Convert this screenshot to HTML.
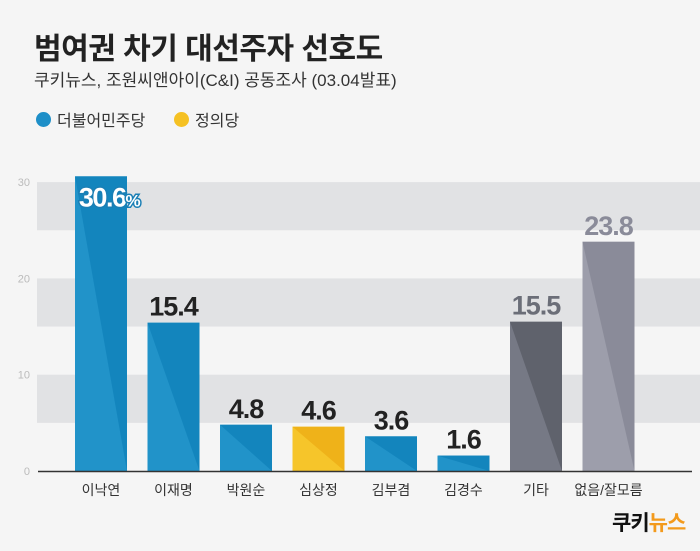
<!DOCTYPE html>
<html><head><meta charset="utf-8"><style>
body{margin:0;width:700px;height:551px;background:#f5f5f5;font-family:"Liberation Sans","Noto Sans CJK KR",sans-serif;overflow:hidden}
#t{position:absolute;left:34px;top:24px;font-size:30px;font-weight:bold;color:#222;letter-spacing:-0.5px}
#s{position:absolute;left:34px;top:66px;font-size:17px;color:#333}
.lg{position:absolute;top:107px;font-size:16px;color:#333;display:flex;align-items:center}
.lg i{display:inline-block;width:15px;height:15px;border-radius:50%;margin-right:6px}
</style></head><body>
<div id="t">범여권 차기 대선주자 선호도</div>
<div id="s">쿠키뉴스, 조원씨앤아이(C&amp;I) 공동조사 (03.04발표)</div>
<div class="lg" style="left:36px"><i style="background:#1e8fc8"></i>더불어민주당</div>
<div class="lg" style="left:174px"><i style="background:#f5c123"></i>정의당</div>
<svg id="c" width="700" height="551" style="position:absolute;left:0;top:0"></svg>
<div style="position:absolute;left:612px;top:507px;font-size:21px;font-weight:bold;letter-spacing:-1px"><span style="color:#111">쿠키</span><span style="color:#f39a1c">뉴스</span></div>
<script>
const cats=["이낙연","이재명","박원순","심상정","김부겸","김경수","기타","없음/잘모름"];
const vals=[30.6,15.4,4.8,4.6,3.6,1.6,15.5,23.8];
const labels=["30.6","15.4","4.8","4.6","3.6","1.6","15.5","23.8"];
const parties=["d","d","d","j","d","d","o","n"];
const ticks=[0,10,20,30];
const NS="http://www.w3.org/2000/svg",svg=document.getElementById('c');
const y=v=>471-v*9.63, x=i=>75+i*72.5;
function mk(t,a){const e=document.createElementNS(NS,t);for(const k in a)e.setAttribute(k,a[k]);svg.appendChild(e);return e;}
for(let b=0;b<30;b+=10){const r=mk('rect',{x:37,y:y(b+10),width:663,height:y(b+5)-y(b+10),fill:'#e1e2e4'});
}
ticks.forEach(t=>{const e=mk('text',{x:30,y:y(t)+4,'text-anchor':'end','font-size':11,fill:'#bbb'});e.textContent=t;
});
const col={d:['#2193c9','#1385bd'],j:['#f6c52a','#efb219'],o:['#767985','#5f626c'],n:['#9d9eab','#8a8b99']};
const lc={d:'#222',j:'#222',o:'#6b6e78',n:'#8a8b99'};
vals.forEach((v,i)=>{const x0=x(i),w=52,top=y(v),h=471-top,c=col[parties[i]];
const r=mk('rect',{x:x0,y:top,width:w,height:h,fill:c[0]});
const p=mk('polygon',{points:`${x0},${top} ${x0+w},${top} ${x0+w},471`,fill:c[1]});
let t;
if(i==0){t=mk('text',{x:x0+w/2+8,y:top+30,'text-anchor':'middle','font-size':27,'font-weight':'bold',fill:'#fff',stroke:'#1a7fb5','stroke-width':3,'paint-order':'stroke','letter-spacing':-1.5});
t.innerHTML=labels[i]+'<tspan font-size="17">%</tspan>';}
else{t=mk('text',{x:x0+w/2,y:top-7,'text-anchor':'middle','font-size':27,'font-weight':'bold',fill:lc[parties[i]],'letter-spacing':-1});t.textContent=labels[i];}

const l=mk('text',{x:x0+w/2,y:495,'text-anchor':'middle','font-size':14,fill:'#333'});l.textContent=cats[i];
});
const ax=mk('line',{x1:38,x2:692,y1:471.5,y2:471.5,stroke:'#333','stroke-width':1.5});
</script></body></html>
